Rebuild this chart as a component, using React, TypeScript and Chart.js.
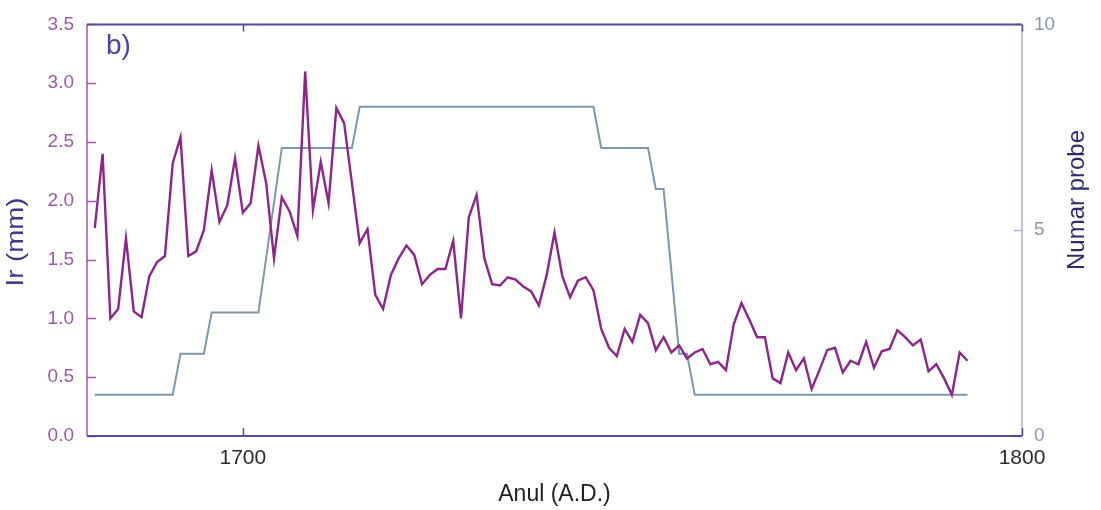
import React, { useEffect, useRef } from "react";
import { Chart, registerables } from "chart.js";

Chart.register(...registerables);

// Ring width (Ir, mm) per year
const irYears = [
  1681, 1682, 1683, 1684, 1685, 1686, 1687, 1688, 1689, 1690,
  1691, 1692, 1693, 1694, 1695, 1696, 1697, 1698, 1699, 1700,
  1701, 1702, 1703, 1704, 1705, 1706, 1707, 1708, 1709, 1710,
  1711, 1712, 1713, 1714, 1715, 1716, 1717, 1718, 1719, 1720,
  1721, 1722, 1723, 1724, 1725, 1726, 1727, 1728, 1729, 1730,
  1731, 1732, 1733, 1734, 1735, 1736, 1737, 1738, 1739, 1740,
  1741, 1742, 1743, 1744, 1745, 1746, 1747, 1748, 1749, 1750,
  1751, 1752, 1753, 1754, 1755, 1756, 1757, 1758, 1759, 1760,
  1761, 1762, 1763, 1764, 1765, 1766, 1767, 1768, 1769, 1770,
  1771, 1772, 1773, 1774, 1775, 1776, 1777, 1778, 1779, 1780,
  1781, 1782, 1783, 1784, 1785, 1786, 1787, 1788, 1789, 1790,
  1791, 1792, 1793,
];
const irValues = [
  1.77, 2.40, 1.00, 1.08, 1.68, 1.06, 1.01, 1.36, 1.48, 1.53,
  2.32, 2.54, 1.53, 1.57, 1.75, 2.26, 1.82, 1.96, 2.36, 1.90,
  1.98, 2.47, 2.15, 1.51, 2.03, 1.91, 1.70, 3.10, 1.92, 2.33,
  1.98, 2.79, 2.66, 2.15, 1.64, 1.76, 1.20, 1.08, 1.37, 1.51,
  1.62, 1.54, 1.29, 1.37, 1.42, 1.42, 1.66, 1.00, 1.86, 2.05,
  1.51, 1.29, 1.28, 1.35, 1.33, 1.27, 1.23, 1.11, 1.37, 1.73,
  1.36, 1.18, 1.32, 1.35, 1.24, 0.91, 0.75, 0.68, 0.91, 0.80,
  1.03, 0.96, 0.73, 0.84, 0.71, 0.77, 0.66, 0.71, 0.74, 0.61,
  0.63, 0.56, 0.95, 1.13, 0.99, 0.84, 0.84, 0.49, 0.45, 0.71,
  0.56, 0.66, 0.40, 0.56, 0.73, 0.75, 0.54, 0.64, 0.61, 0.80,
  0.58, 0.72, 0.74, 0.90, 0.84, 0.77, 0.82, 0.55, 0.61, 0.49,
  0.35, 0.71, 0.64,
];

// Number of samples (Numar probe), vertices of the step line
const sampleYears = [1681, 1691, 1692, 1695, 1696, 1702, 1705, 1714, 1715, 1745, 1746, 1752, 1753, 1754, 1756, 1757, 1758, 1793];
const sampleCounts = [1, 1, 2, 2, 3, 3, 7, 7, 8, 8, 7, 7, 6, 6, 2, 2, 1, 1];

// Axes
const yearTicks = [1700, 1800];
const irTicks = [0, 0.5, 1, 1.5, 2, 2.5, 3, 3.5];
const sampleTicks = [0, 5, 10];

const FONT = '"Liberation Sans", Arial, Helvetica, sans-serif';
const C_IR = "#8e248c";
const C_SAMPLES = "#7c98ae";
const C_LEFT = "#9c5aa8";
const C_TOPBOT = "#574a98";
const C_RIGHT = "#a9b3cf";

const framePlugin = {
  id: "framePlugin",
  afterDraw(chart: any) {
    const { ctx, chartArea: a, scales } = chart;
    const x = scales.x;
    const y = scales.y;
    const y1 = scales.y1;
    ctx.save();
    ctx.lineCap = "butt";
    // left border + ticks
    ctx.strokeStyle = C_LEFT;
    ctx.lineWidth = 1.5;
    ctx.beginPath();
    ctx.moveTo(a.left, a.top);
    ctx.lineTo(a.left, a.bottom);
    irTicks.forEach((v) => {
      const py = Math.round(y.getPixelForValue(v)) + 0.5;
      ctx.moveTo(a.left, py);
      ctx.lineTo(a.left + 9, py);
    });
    ctx.stroke();
    // right border + ticks
    ctx.strokeStyle = C_RIGHT;
    ctx.beginPath();
    ctx.moveTo(a.right, a.top);
    ctx.lineTo(a.right, a.bottom);
    sampleTicks.forEach((v) => {
      const py = Math.round(y1.getPixelForValue(v)) + 0.5;
      ctx.moveTo(a.right - 8, py);
      ctx.lineTo(a.right, py);
    });
    ctx.stroke();
    // top and bottom borders + ticks
    ctx.strokeStyle = C_TOPBOT;
    ctx.lineWidth = 2;
    ctx.beginPath();
    ctx.moveTo(a.left, a.top);
    ctx.lineTo(a.right, a.top);
    ctx.moveTo(a.left, a.bottom);
    ctx.lineTo(a.right, a.bottom);
    ctx.stroke();
    ctx.lineWidth = 1.5;
    ctx.beginPath();
    yearTicks.forEach((v) => {
      const px = Math.round(x.getPixelForValue(v)) + 0.5;
      ctx.moveTo(px, a.top);
      ctx.lineTo(px, a.top + 7);
      ctx.moveTo(px, a.bottom);
      ctx.lineTo(px, a.bottom - 8);
    });
    ctx.stroke();

    // panel letter
    ctx.fillStyle = "#4a44a8";
    ctx.font = `28px ${FONT}`;
    ctx.textAlign = "left";
    ctx.textBaseline = "alphabetic";
    ctx.fillText("b)", a.left + 19, a.top + 30);

    // left axis title
    ctx.save();
    ctx.translate(16, 242);
    ctx.rotate(-Math.PI / 2);
    ctx.scale(1.15, 1);
    ctx.fillStyle = "#3d3889";
    ctx.font = `24px ${FONT}`;
    ctx.textAlign = "center";
    ctx.textBaseline = "middle";
    ctx.fillText("Ir (mm)", 0, 0);
    ctx.restore();

    // right axis title (reads bottom to top)
    ctx.save();
    ctx.translate(1077, 200);
    ctx.rotate(-Math.PI / 2);
    ctx.fillStyle = "#2d2d6e";
    ctx.font = `24px ${FONT}`;
    ctx.textAlign = "center";
    ctx.textBaseline = "middle";
    ctx.fillText("Numar probe", 0, 0);
    ctx.restore();

    ctx.restore();
  },
};

export default function App() {
  const ref = useRef<HTMLCanvasElement | null>(null);

  useEffect(() => {
    if (!ref.current) return;
    const irData = irYears.map((yr, i) => ({ x: yr, y: irValues[i] }));
    const sampleData = sampleYears.map((yr, i) => ({ x: yr, y: sampleCounts[i] }));

    const chart = new Chart(ref.current, {
      type: "line",
      data: {
        datasets: [
          {
            label: "Ir (mm)",
            data: irData,
            yAxisID: "y",
            borderColor: C_IR,
            borderWidth: 2.4,
            pointRadius: 0,
            tension: 0,
            fill: false,
          },
          {
            label: "Numar probe",
            data: sampleData,
            yAxisID: "y1",
            borderColor: C_SAMPLES,
            borderWidth: 2,
            pointRadius: 0,
            tension: 0,
            fill: false,
          },
        ],
      },
      options: {
        animation: false,
        responsive: false,
        maintainAspectRatio: false,
        layout: { padding: { top: 17, left: 0, right: 0, bottom: 0 } },
        plugins: {
          legend: { display: false },
          tooltip: { enabled: false },
        },
        scales: {
          x: {
            type: "linear",
            position: "bottom",
            min: 1680,
            max: 1800,
            afterBuildTicks: (s: any) => {
              s.ticks = yearTicks.map((v) => ({ value: v }));
            },
            afterFit: (s: any) => {
              s.height = 74;
            },
            grid: { display: false, drawTicks: false },
            border: { display: false },
            ticks: {
              color: "#2b2b2b",
              font: { family: FONT, size: 21 },
              padding: 10,
              maxRotation: 0,
              autoSkip: false,
              callback: (v: any) => String(v),
            },
            title: {
              display: true,
              text: "Anul (A.D.)",
              color: "#222222",
              font: { family: FONT, size: 23 },
              padding: { top: 0, bottom: 2 },
            },
          },
          y: {
            type: "linear",
            position: "left",
            min: 0,
            max: 3.5,
            afterBuildTicks: (s: any) => {
              s.ticks = irTicks.map((v) => ({ value: v }));
            },
            afterFit: (s: any) => {
              s.width = 87;
            },
            grid: { display: false, drawTicks: false },
            border: { display: false },
            ticks: {
              color: C_LEFT,
              font: { family: FONT, size: 19 },
              padding: 13,
              callback: (v: any) => Number(v).toFixed(1),
            },
          },
          y1: {
            type: "linear",
            position: "right",
            min: 0,
            max: 10,
            afterBuildTicks: (s: any) => {
              s.ticks = sampleTicks.map((v) => ({ value: v }));
            },
            afterFit: (s: any) => {
              s.width = 79;
            },
            grid: { display: false, drawTicks: false },
            border: { display: false },
            ticks: {
              color: "#8c97aa",
              font: { family: FONT, size: 19 },
              padding: 12,
              callback: (v: any) => String(v),
            },
          },
        },
      },
      plugins: [framePlugin],
    });
    return () => chart.destroy();
  }, []);

  return (
    <div style={{ position: "absolute", left: 0, top: 0, width: 1101, height: 510, background: "#ffffff" }}>
      <canvas ref={ref} width={1101} height={510} style={{ display: "block" }} />
    </div>
  );
}
